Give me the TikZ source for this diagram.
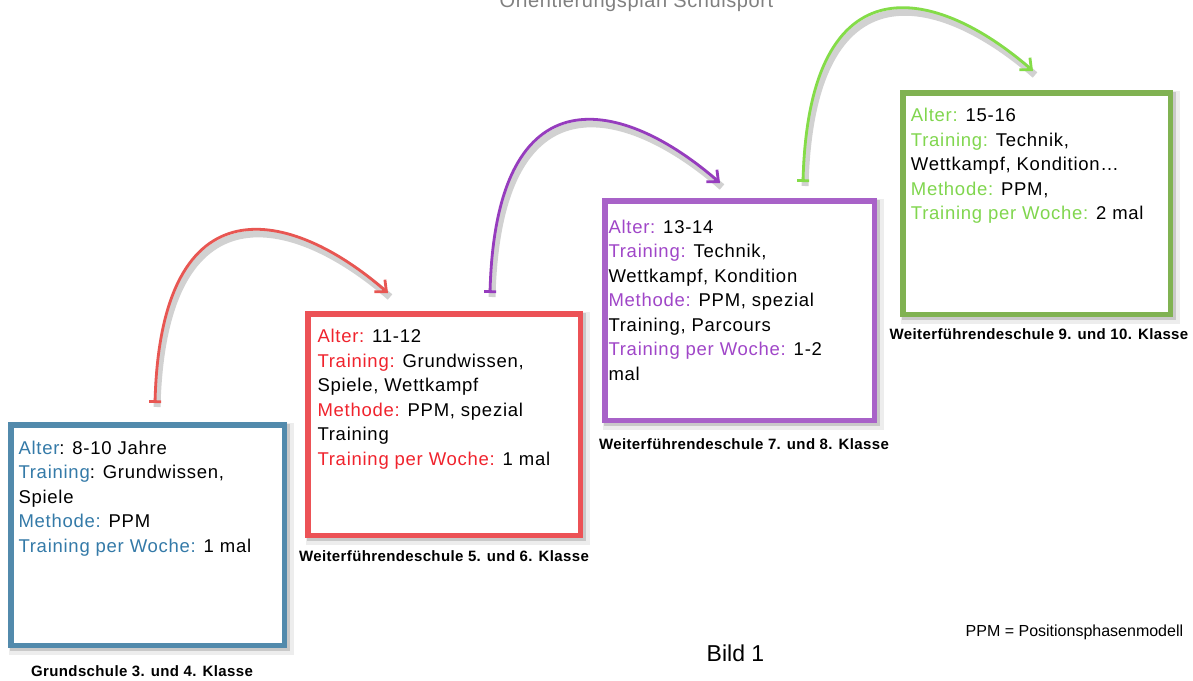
\documentclass[tikz,border=0pt]{standalone}
\usepackage{fontspec}
\setmainfont{Liberation Sans}
\newfontfamily\bodyf[LetterSpace=4]{Liberation Sans}
\newfontfamily\titlef[LetterSpace=3]{Liberation Sans}
\newfontfamily\capf[LetterSpace=2.5]{Liberation Sans}
\usetikzlibrary{arrows.meta}
\definecolor{blueT}{RGB}{52,122,168}
\definecolor{blueB}{RGB}{82,138,172}
\definecolor{redT}{RGB}{240,35,45}
\definecolor{redB}{RGB}{236,82,86}
\definecolor{purT}{RGB}{160,70,200}
\definecolor{purB}{RGB}{168,98,200}
\definecolor{grnT}{RGB}{128,214,78}
\definecolor{grnB}{RGB}{128,178,82}
\definecolor{redA}{RGB}{232,86,82}
\definecolor{purA}{RGB}{150,60,190}
\definecolor{grnA}{RGB}{132,220,72}
\definecolor{titleG}{RGB}{128,128,128}
\tikzset{
  box/.style={draw=#1, line width=5.5pt, fill=white, inner sep=0pt,
    preaction={draw=black, opacity=0.07, line width=12pt, transform canvas={shift={(4pt,-4pt)}}},
    preaction={draw=black, opacity=0.15, line width=6pt, transform canvas={shift={(2.5pt,-2.5pt)}}}},
  body/.style={anchor=north west, inner sep=0pt, align=left, text=black,
    font=\bodyf\fontsize{18.5}{24.5}\selectfont},
  caption/.style={anchor=base, inner sep=0pt, text=black,
    font=\capf\bfseries\fontsize{15}{17}\selectfont},
  arr/.style={draw=#1, line width=2.8pt,
    {Bar[width=12pt]}-{Straight Barb[length=9pt,width=16pt]}},
  arrshadow/.style={draw=black, opacity=0.18, line width=7pt,
    transform canvas={shift={(2pt,-4pt)}}}
}
\begin{document}
\begin{tikzpicture}[x=1pt,y=-1pt]
\useasboundingbox (0,0) rectangle (1193,680);
\fill[white] (0,0) rectangle (1193,680);

% title
\node[anchor=base, inner sep=0pt, text=titleG,
  font=\titlef\fontsize{20}{22}\selectfont] (title) at (636.5,7) {Orientierungsplan Schulsport};

% boxes
\node[box=blueB, minimum width=273.5pt, minimum height=220.5pt] (b1) at (147.5,535) {};
\node[box=redB, minimum width=272.5pt, minimum height=221.5pt] (b2) at (444,424.5) {};
\node[box=purB, minimum width=269.5pt, minimum height=219.5pt] (b3) at (739.5,310.5) {};
\node[box=grnB, minimum width=267.5pt, minimum height=221.5pt] (b4) at (1036.5,203.5) {};

% texts
\node[body] (t1) at (18.3,440.5) {%
  \textcolor{blueT}{Alter}: 8-10 Jahre\\
  \textcolor{blueT}{Training}: Grundwissen,\\
  Spiele\\
  \textcolor{blueT}{Methode:} PPM\\
  \textcolor{blueT}{Training per Woche:} 1 mal};
\node[body] (t2) at (317.3,329.2) {%
  \textcolor{redT}{Alter:} 11-12\\
  \textcolor{redT}{Training:} Grundwissen,\\
  Spiele, Wettkampf\\
  \textcolor{redT}{Methode:} PPM, spezial\\
  Training\\
  \textcolor{redT}{Training per Woche:} 1 mal};
\node[body] (t3) at (608.3,219.5) {%
  \textcolor{purT}{Alter:} 13-14\\
  \textcolor{purT}{Training:} Technik,\\
  Wettkampf, Kondition\\
  \textcolor{purT}{Methode:} PPM, spezial\\
  Training, Parcours\\
  \textcolor{purT}{Training per Woche:} 1-2\\
  mal};
\node[body] (t4) at (910.7,108) {%
  \textcolor{grnT}{Alter:} 15-16\\
  \textcolor{grnT}{Training:} Technik,\\
  Wettkampf, Kondition…\\
  \textcolor{grnT}{Methode:} PPM,\\
  \textcolor{grnT}{Training per Woche:} 2 mal};

% captions
\node[caption] (c1) at (142,676.5) {Grundschule 3. und 4. Klasse};
\node[caption] (c2) at (444,561.5) {Weiterführendeschule 5. und 6. Klasse};
\node[caption] (c3) at (744,449.3) {Weiterführendeschule 7. und 8. Klasse};
\node[caption] (c4) at (1039,339.3) {Weiterführendeschule 9. und 10. Klasse};

% notes
\node[anchor=base west, inner sep=0pt, font=\fontsize{16}{18}\selectfont] (ppm) at (965.5,636.7) {PPM = Positionsphasenmodell};
\node[anchor=base west, inner sep=0pt, font=\fontsize{23}{26}\selectfont] (bild) at (706.5,661.7) {Bild 1};

% arrow end points
\coordinate (s1) at (155,403);  \coordinate (e1) at (388,293);
\coordinate (s2) at (490,293);  \coordinate (e2) at (720,183);
\coordinate (s3) at (803,182);  \coordinate (e3) at (1033,71);

\draw[arrshadow] (s1) .. controls +(6,-226) and +(-96,-84) .. (e1);
\draw[arrshadow] (s2) .. controls +(6,-226) and +(-96,-84) .. (e2);
\draw[arrshadow] (s3) .. controls +(6,-226) and +(-96,-84) .. (e3);
\draw[arr=redA] (s1) .. controls +(6,-226) and +(-96,-84) .. (e1);
\draw[arr=purA] (s2) .. controls +(6,-226) and +(-96,-84) .. (e2);
\draw[arr=grnA] (s3) .. controls +(6,-226) and +(-96,-84) .. (e3);
\end{tikzpicture}
\end{document}
